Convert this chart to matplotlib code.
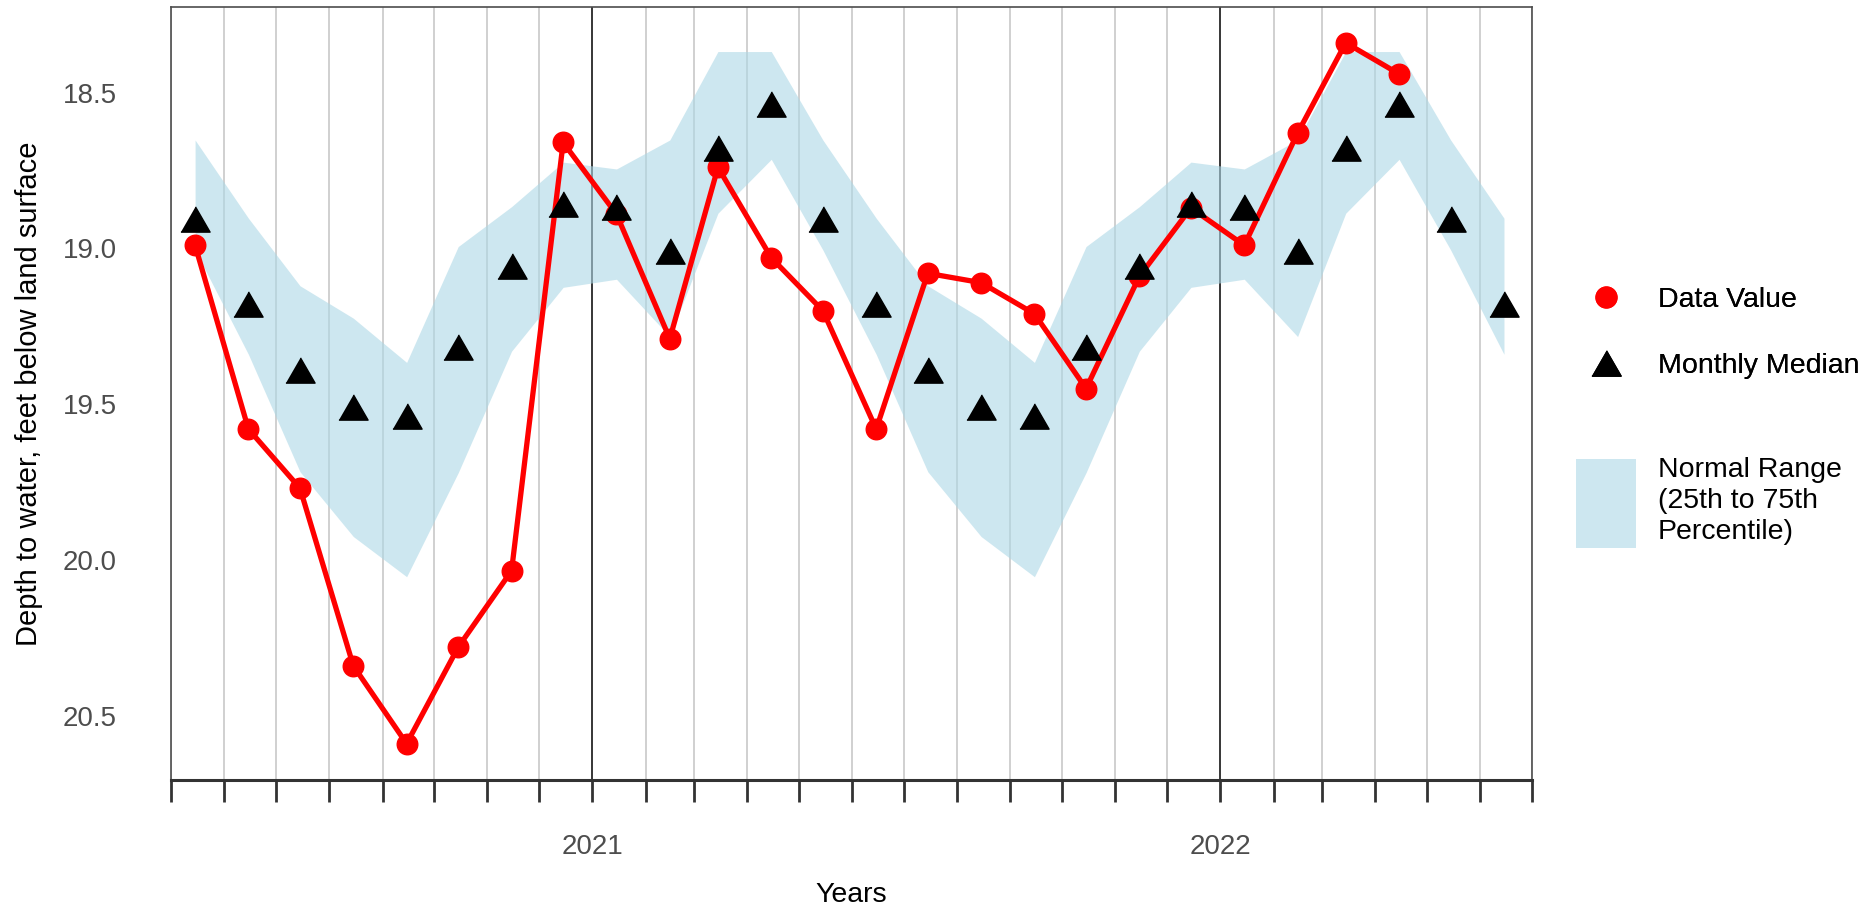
import matplotlib
matplotlib.use("Agg")
import matplotlib.pyplot as plt
import matplotlib.dates as mdates
from matplotlib.lines import Line2D
from matplotlib.patches import Patch
import pandas as pd

plt.rcParams['font.family'] = ['Liberation Sans', 'DejaVu Sans']

# monthly points, 15th of each month, May 2020 - Jun 2022
dates = pd.date_range('2020-05-15', periods=26, freq=pd.DateOffset(months=1))

# measured depth to water (May 2020 - Apr 2022)
data_value = [18.99, 19.58, 19.77, 20.34, 20.59, 20.28, 20.035, 18.66,
              18.89, 19.29, 18.74, 19.03, 19.20, 19.58, 19.08, 19.11,
              19.21, 19.45, 19.09, 18.87,
              18.99, 18.63, 18.34, 18.44]

monthly_median = [18.907, 19.178, 19.389, 19.509, 19.539, 19.318, 19.057, 18.859,
                  18.868, 19.008, 18.677, 18.537, 18.907, 19.178, 19.389, 19.509,
                  19.539, 19.318, 19.057, 18.859,
                  18.868, 19.008, 18.677, 18.537, 18.907, 19.178]

p25 = [18.652, 18.903, 19.12, 19.224, 19.366, 18.994, 18.866, 18.723,
       18.745, 18.652, 18.368, 18.368, 18.652, 18.903, 19.12, 19.224,
       19.366, 18.994, 18.866, 18.723,
       18.745, 18.652, 18.368, 18.368, 18.652, 18.903]

p75 = [19.005, 19.34, 19.717, 19.925, 20.054, 19.72, 19.33, 19.125,
       19.099, 19.283, 18.887, 18.714, 19.005, 19.34, 19.717, 19.925,
       20.054, 19.72, 19.33, 19.125,
       19.099, 19.283, 18.887, 18.714, 19.005, 19.34]

band_color = '#ADD8E6'
tri = [(-1, -0.866), (1, -0.866), (0, 0.866)]

fig = plt.figure(figsize=(18.76, 9.10), dpi=100)
ax = fig.add_axes([171 / 1876, 1 - 779.5 / 910, 1360.5 / 1876, 772.2 / 910])

ax.fill_between(dates, p25, p75, color=band_color, alpha=0.6, lw=0, zorder=1)
ax.plot(dates[:len(data_value)], data_value, color='red', lw=3.8,
        marker='o', ms=14.8, zorder=3)
ax.plot(dates, monthly_median, ls='none', marker=tri, ms=21, color='black', zorder=4)

ax.set_xlim(pd.Timestamp('2020-05-01'), pd.Timestamp('2022-07-01'))
ax.set_ylim(20.705, 18.226)

ax.xaxis.set_major_locator(mdates.YearLocator())
ax.xaxis.set_major_formatter(mdates.DateFormatter('%Y'))
ax.xaxis.set_minor_locator(mdates.MonthLocator())
ax.set_yticks([18.5, 19.0, 19.5, 20.0, 20.5])
ax.set_yticklabels(['18.5', '19.0', '19.5', '20.0', '20.5'])

ax.set_axisbelow(True)
ax.grid(which='minor', axis='x', color='#C4C4C4', lw=1.1)
ax.grid(which='major', axis='x', color='black', lw=1.1)
ax.grid(which='both', axis='y', visible=False)

for side in ['left', 'top', 'right']:
    ax.spines[side].set_color('#4D4D4D')
    ax.spines[side].set_linewidth(1.2)
ax.spines['bottom'].set_color('#333333')
ax.spines['bottom'].set_linewidth(2.2)

ax.tick_params(axis='x', which='both', direction='out', length=16, width=2.0,
               color='#333333', labelsize=20, labelcolor='#4D4D4D', pad=23)
ax.tick_params(axis='y', length=0, labelsize=20, labelcolor='#4D4D4D', pad=39)

ax.set_xlabel('Years', fontsize=20.5)
ax.xaxis.set_label_coords(0.5, -0.133)
ax.set_ylabel('Depth to water, feet below land surface', fontsize=21)
ax.yaxis.set_label_coords(-0.094, 0.5)

# legend
h1 = [Line2D([], [], color='red', marker='o', ls='none', ms=15),
      Line2D([], [], color='black', marker=tri, ls='none', ms=21)]
leg1 = fig.legend(h1, ['Data Value', 'Monthly Median'], loc='upper left',
                  bbox_to_anchor=(1578 / 1876, 1 - 287 / 910), frameon=False,
                  fontsize=20.5, handlelength=2.0, handletextpad=0.8,
                  labelspacing=1.4, borderpad=0, borderaxespad=0)
h2 = [Patch(facecolor=band_color, alpha=0.6, lw=0)]
leg2 = fig.legend(h2, ['Normal Range\n(25th to 75th\nPercentile)'], loc='upper left',
                  bbox_to_anchor=(1576 / 1876, 1 - 457 / 910), frameon=False,
                  fontsize=20.5, handlelength=2.1, handleheight=4.4,
                  handletextpad=0.78, borderpad=0, borderaxespad=0)
for t in leg2.get_texts():
    t.set_linespacing(1.25)
fig.add_artist(leg1)

fig.savefig('out.png', dpi=100, facecolor='white')
